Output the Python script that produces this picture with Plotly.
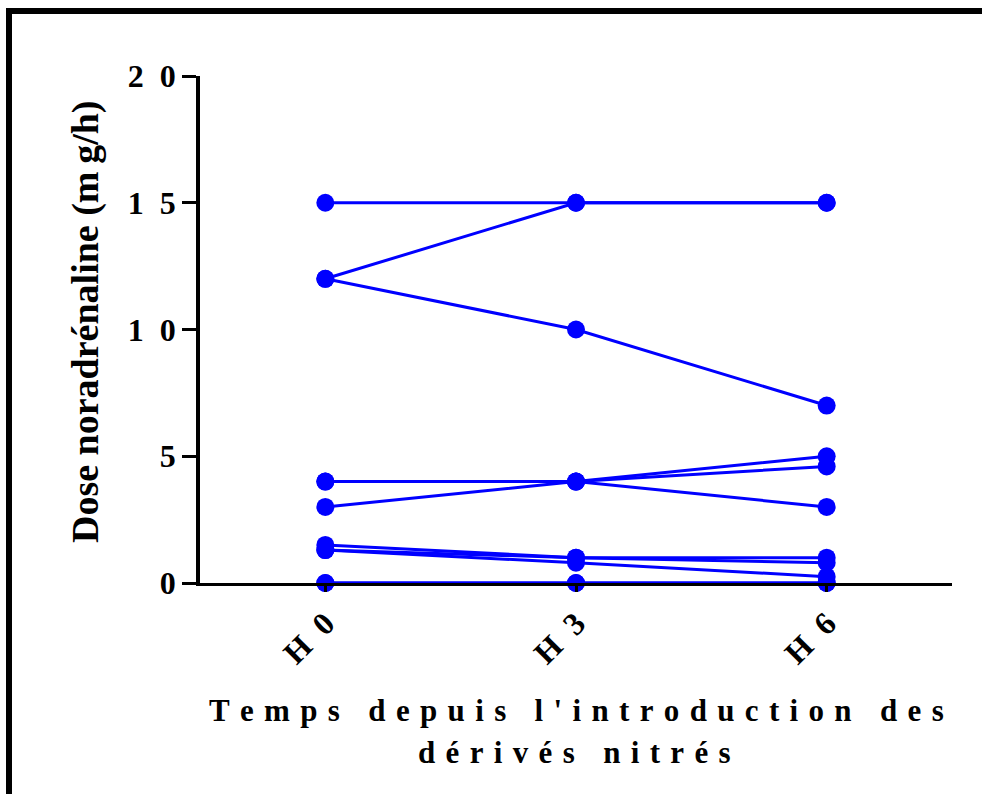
import plotly.graph_objects as go

# Time points
times = ["H0", "H3", "H6"]
time_labels = ["H\u20020", "H\u20023", "H\u20026"]

# Noradrenaline dose (mg/h) per patient at H0, H3, H6
patient_1 = [15, 15, 15]
patient_2 = [12, 15, 15]
patient_3 = [12, 10, 7]
patient_4 = [4, 4, 5]
patient_5 = [4, 4, 3]
patient_6 = [3, 4, 4.6]
patient_7 = [1.5, 1.0, 1.0]
patient_8 = [1.3, 1.0, 0.8]
patient_9 = [1.3, 0.8, 0.25]
patient_10 = [0, 0, 0]
patient_11 = [0, 0, 0]

patients = [patient_1, patient_2, patient_3, patient_4, patient_5, patient_6,
            patient_7, patient_8, patient_9, patient_10, patient_11]

y_ticks = [0, 5, 10, 15, 20]
y_tick_labels = ["0", "5", "1\u20020", "1\u20025", "2\u20020"]

W, H = 982, 794
L, R, T, B = 200, 30, 76, 211
plot_w, plot_h = W - L - R, H - T - B

def px(x):
    return (x - L) / plot_w

def py(y):
    return (H - B - y) / plot_h

def spaced(text, gap="\u2004"):
    """Letter-spaced text: a narrow space between letters, wider between words."""
    words = text.split(" ")
    return (gap + " " + gap).join(gap.join(w) for w in words)

BLUE = "#0000FF"
FONT = "Liberation Serif"

fig = go.Figure()
for vals in patients:
    fig.add_trace(go.Scatter(
        x=times, y=vals, mode="lines+markers",
        line=dict(color=BLUE, width=3),
        marker=dict(color=BLUE, size=18, symbol="circle"),
        cliponaxis=False, showlegend=False, hoverinfo="x+y",
    ))

fig.update_layout(
    width=W, height=H,
    margin=dict(l=L, r=R, t=T, b=B),
    paper_bgcolor="white", plot_bgcolor="white",
    font=dict(family=FONT, color="black"),
    xaxis=dict(
        type="category", range=[-0.5, 2.5],
        tickvals=times, ticktext=time_labels, tickangle=-45,
        tickfont=dict(family=FONT, size=32, color="black", weight="bold"),
        showline=True, linecolor="black", linewidth=3,
        ticks="outside", ticklen=6, tickwidth=3, tickcolor="black",
        showgrid=False, zeroline=False,
    ),
    yaxis=dict(
        range=[0, 20], tickvals=y_ticks, ticktext=y_tick_labels,
        tickfont=dict(family=FONT, size=32, color="black", weight="bold"),
        showline=True, linecolor="black", linewidth=3.5,
        ticks="outside", ticklen=14, tickwidth=3, tickcolor="black",
        showgrid=False, zeroline=False,
    ),
)

# Axis titles
fig.add_annotation(
    text="Dose noradrénaline (m\u2009g/h)", textangle=-90,
    xref="paper", yref="paper", x=px(85), y=py(322),
    showarrow=False, font=dict(family=FONT, size=38, color="black", weight="bold"),
    xanchor="center", yanchor="middle",
)
fig.add_annotation(
    text=spaced("Temps depuis l'introduction des"),
    xref="paper", yref="paper", x=px(576), y=py(710),
    showarrow=False, font=dict(family=FONT, size=31, color="black", weight="bold"),
    xanchor="center", yanchor="middle",
)
fig.add_annotation(
    text=spaced("dérivés nitrés"),
    xref="paper", yref="paper", x=px(574), y=py(752),
    showarrow=False, font=dict(family=FONT, size=31, color="black", weight="bold"),
    xanchor="center", yanchor="middle",
)

# Outer frame (top and left edges)
fig.add_shape(type="line", xref="paper", yref="paper",
              x0=px(6), x1=px(990), y0=py(11), y1=py(11),
              line=dict(color="black", width=6))
fig.add_shape(type="line", xref="paper", yref="paper",
              x0=px(9), x1=px(9), y0=py(8), y1=py(800),
              line=dict(color="black", width=6))

fig.write_html("out.html")
